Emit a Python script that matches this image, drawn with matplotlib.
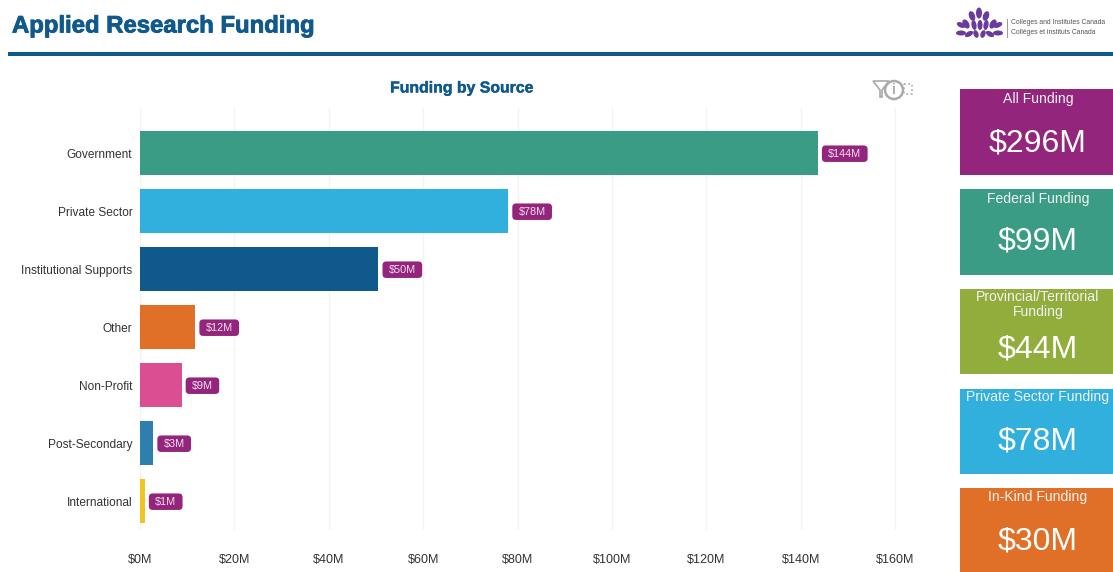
import matplotlib
matplotlib.use("Agg")
import matplotlib.pyplot as plt
import matplotlib.patheffects as pe
from matplotlib.patches import Rectangle, Ellipse, Circle, Polygon, BoxStyle

plt.rcParams['font.family'] = ['Liberation Sans', 'DejaVu Sans']

categories = ["Government", "Private Sector", "Institutional Supports", "Other",
              "Non-Profit", "Post-Secondary", "International"]
values = [143.6, 78.0, 50.5, 11.7, 8.8, 2.8, 1.0]
value_labels = ["$144M", "$78M", "$50M", "$12M", "$9M", "$3M", "$1M"]
bar_colors = ["#3A9C85", "#31B0DE", "#10598C", "#E06F28", "#DC4E92", "#2F7FAE", "#EFC521"]
x_ticks = [0, 20, 40, 60, 80, 100, 120, 140, 160]
x_tick_labels = ["$0M", "$20M", "$40M", "$60M", "$80M", "$100M", "$120M", "$140M", "$160M"]

card_titles = ["All Funding", "Federal Funding", "Provincial/Territorial\nFunding",
               "Private Sector Funding", "In-Kind Funding"]
card_values = ["$296M", "$99M", "$44M", "$78M", "$30M"]
card_colors = ["#93267C", "#3A9C85", "#91AE3C", "#31B0DE", "#E06F28"]


class WideRound(BoxStyle.Round):
    """Rounded badge with more padding left and right than above and below."""
    def __call__(self, x0, y0, width, height, mutation_size):
        extra = mutation_size * 0.28
        return super().__call__(x0 - extra, y0, width + 2 * extra, height, mutation_size)


W, H = 1113, 572
fig = plt.figure(figsize=(W / 100, H / 100), dpi=100, facecolor="white")

# main chart: left 140, right 915, top 108, bottom 530 (pixels)
ax = fig.add_axes([140 / W, 1 - 530 / H, 775 / W, 422 / H])
ax.barh(range(len(values)), values, height=0.77, color=bar_colors, zorder=3)
ax.set_xlim(0, 775 / 4.72)
ax.set_ylim(6.5, -0.776)
ax.set_yticks(range(len(categories)))
ax.set_yticklabels(categories, fontsize=8.6, color="#333333")
ax.set_xticks(x_ticks)
ax.set_xticklabels(x_tick_labels, fontsize=9, color="#333333")
ax.tick_params(axis="both", length=0)
ax.tick_params(axis="y", pad=5.5)
ax.tick_params(axis="x", pad=17)
ax.grid(axis="x", color="#F3F3F3", linewidth=1, zorder=0)
for s in ax.spines.values():
    s.set_visible(False)
for i, (v, lab) in enumerate(zip(values, value_labels)):
    ax.annotate(lab, (v, i), xytext=(7.5, -0.5), textcoords="offset points",
                va="center", ha="left", fontsize=7.8, color="#F3DDEE", zorder=4,
                bbox=dict(boxstyle=WideRound(pad=0.3, rounding_size=0.35),
                          fc="#93267C", ec="none"))

# overlay in pixel coordinates for page furniture
ov = fig.add_axes([0, 0, 1, 1], facecolor="none")
ov.set_xlim(0, W)
ov.set_ylim(H, 0)
ov.axis("off")

ov.text(12, 26, "Applied Research Funding", fontsize=17.2, fontweight="bold",
        color="#10598C", va="center", ha="left",
        path_effects=[pe.withStroke(linewidth=0.6, foreground="#10598C")])
ov.add_patch(Rectangle((8, 52), W - 8, 4, fc="#10598C", ec="none"))
ov.text(462, 88, "Funding by Source", fontsize=11.4, fontweight="bold",
        color="#10598C", va="center", ha="center",
        path_effects=[pe.withStroke(linewidth=0.3, foreground="#10598C")])

# logo
for cx, cy, w, h, ang in [
    (979, 13, 6, 11, 0), (972, 16, 6, 10, -20), (986, 16, 6, 10, 20),
    (966, 24, 6, 10, -30), (974, 25, 5, 10, -10), (980, 25, 5, 10, 0),
    (986, 25, 5, 10, 10), (993, 24, 6, 10, 30),
    (961, 25, 9, 5, 25), (998, 25, 9, 5, -25),
    (961, 33, 10, 5, 0), (969, 34, 9, 5, -30), (976, 34, 5, 8, -20), (983, 34, 5, 8, 20),
    (990, 34, 9, 5, 30), (998, 33, 10, 5, 0)]:
    ov.add_patch(Ellipse((cx, cy), w, h, angle=ang, fc="#6A3A9C", ec="none"))
ov.plot([1007, 1007], [19, 37], color="#999999", lw=0.7)
ov.text(1011, 23, "Colleges and Institutes Canada", fontsize=4.9, color="#555555", va="center")
ov.text(1011, 32, "Collèges et instituts Canada", fontsize=4.9, color="#555555", va="center")

# toolbar icons
ov.add_patch(Polygon([(873, 81), (889, 81), (882, 90), (882, 97), (880, 97), (880, 90)],
                     fc="none", ec="#AAAAAA", lw=1.2))
ov.add_patch(Circle((894, 90), 9, fc="white", ec="#AAAAAA", lw=1.8))
ov.text(894, 90, "i", fontsize=10, fontweight="bold", color="#AAAAAA", ha="center", va="center")
ov.add_patch(Rectangle((904, 84), 8, 10, fc="none", ec="#AAAAAA", lw=1.2, ls=":"))

# cards
card_tops = [89, 189, 289, 389, 488]
card_bottoms = [175, 275, 374, 474, 572]
value_centers = [143, 242, 349, 442, 541]
title_centers = [98.5, 198.5, 304.5, 397.5, 497.5]
for t, b, vc, tc, title, val, col in zip(card_tops, card_bottoms, value_centers, title_centers,
                                         card_titles, card_values, card_colors):
    ov.add_patch(Rectangle((960, t), W - 960, b - t, fc=col, ec="none"))
    ov.text(1038, tc, title, fontsize=10.1, color="#F2F2F2", ha="center", va="center",
            linespacing=1.1)
    ov.text(1038, vc, val, fontsize=23, color="white", ha="center", va="center")

fig.savefig("out.png", dpi=100)
